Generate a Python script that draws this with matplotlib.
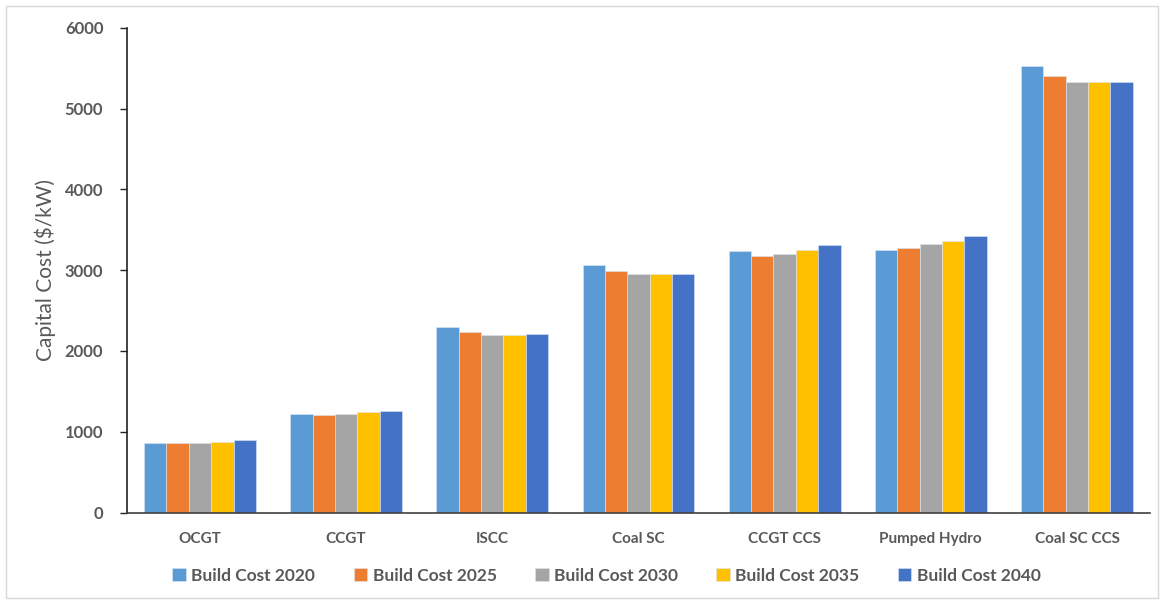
import numpy as np
import matplotlib.pyplot as plt
from matplotlib.patches import Rectangle

plt.rcParams['font.family'] = ['Lato', 'DejaVu Sans']

technologies = ['OCGT', 'CCGT', 'ISCC', 'Coal SC', 'CCGT CCS', 'Pumped Hydro', 'Coal SC CCS']
years = ['2020', '2025', '2030', '2035', '2040']

cost_2020 = [855, 1223, 2296, 3059, 3233, 3252, 5526]
cost_2025 = [855, 1207, 2230, 2989, 3178, 3270, 5402]
cost_2030 = [855, 1223, 2197, 2955, 3199, 3323, 5332]
cost_2035 = [875, 1240, 2197, 2955, 3252, 3356, 5332]
cost_2040 = [893, 1256, 2213, 2955, 3307, 3426, 5332]

series = [cost_2020, cost_2025, cost_2030, cost_2035, cost_2040]
colors = ['#5B9BD5', '#ED7D31', '#A5A5A5', '#FFC000', '#4472C4']

text_grey = '#595959'

fig = plt.figure(figsize=(11.64, 6.03), dpi=100)
ax = fig.add_axes([0.109, 0.150, 0.879, 0.804])

x = np.arange(len(technologies))
width = 0.153
for i, (vals, c, yr) in enumerate(zip(series, colors, years)):
    ax.bar(x + (i - 2) * width, vals, width, color=c, label='Build Cost ' + yr,
           edgecolor='#dce6f5', linewidth=0.4)

ax.set_xlim(-0.5, len(technologies) - 0.5)
ax.set_ylim(0, 6000)
ax.set_yticks(range(0, 6001, 1000))
ax.set_xticks(x)
ax.set_xticklabels(technologies, fontsize=11, fontweight='bold', color=text_grey)
ax.tick_params(axis='x', length=0, pad=14)
ax.tick_params(axis='y', labelsize=12, labelcolor=text_grey, length=5, width=1,
               color='#222222', pad=12)
for lbl in ax.get_yticklabels():
    lbl.set_fontweight('bold')

ax.set_ylabel('Capital Cost ($/kW)', fontsize=15, color=text_grey, labelpad=6)

for side in ['top', 'right']:
    ax.spines[side].set_visible(False)
ax.spines['left'].set_color('#222222')
ax.spines['bottom'].set_color('#404040')
ax.spines['left'].set_linewidth(1.2)
ax.spines['bottom'].set_linewidth(1.2)

fig.legend(loc='center', bbox_to_anchor=(0.521, 0.045), ncol=5, frameon=False,
           prop={'size': 12.5, 'weight': 'bold'}, handlelength=0.8, handleheight=0.8,
           handletextpad=0.3, columnspacing=2.2, labelcolor=text_grey)

# thin chart-area border
fig.patches.append(Rectangle((0.005, 0.008), 0.99, 0.982, transform=fig.transFigure,
                             fill=False, edgecolor='#d9d9d9', linewidth=1))

fig.savefig('out.png', dpi=100)
